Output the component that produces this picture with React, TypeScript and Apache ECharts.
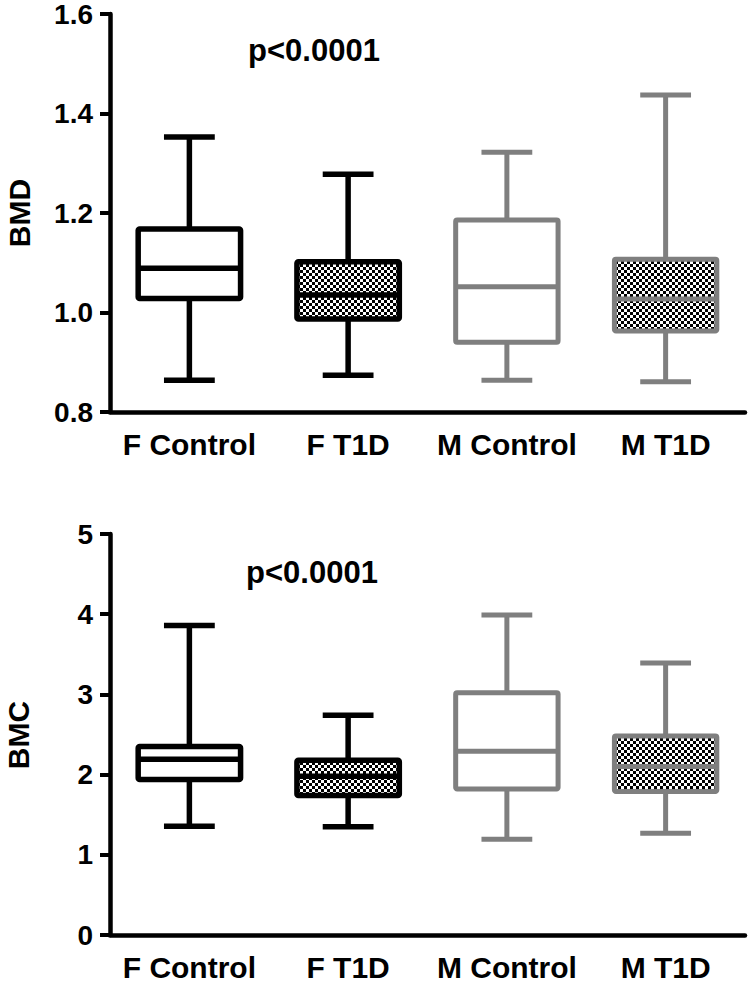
import React, { useEffect, useRef } from "react";
import * as echarts from "echarts";

const categories = ["F Control", "F T1D", "M Control", "M T1D"];
// each box: [min, Q1, median, Q3, max]
const bmdBoxes = [
  [0.864, 1.028, 1.089, 1.168, 1.353],
  [0.874, 0.987, 1.035, 1.102, 1.278],
  [0.864, 0.94, 1.052, 1.186, 1.322],
  [0.861, 0.963, 1.027, 1.107, 1.437],
];
const bmcBoxes = [
  [1.357, 1.94, 2.19, 2.35, 3.86],
  [1.35, 1.74, 1.98, 2.18, 2.74],
  [1.195, 1.82, 2.29, 3.02, 3.99],
  [1.27, 1.79, 2.1, 2.48, 3.39],
];
const bmdAxis = { min: 0.8, max: 1.6, interval: 0.2, decimals: 1 };
const bmcAxis = { min: 0, max: 5, interval: 1, decimals: 0 };
const groupColors = ["#000000", "#000000", "#7f7f7f", "#7f7f7f"];
const groupChecked = [false, true, false, true];
const pValueText = "p<0.0001";
const titles = ["BMD", "BMC"];

const FONT = "'Liberation Sans', Arial, sans-serif";

function makeChecker() {
  const c = document.createElement("canvas");
  c.width = 6;
  c.height = 6;
  const ctx = c.getContext("2d")!;
  ctx.fillStyle = "#ffffff";
  ctx.fillRect(0, 0, 6, 6);
  ctx.fillStyle = "#000000";
  ctx.fillRect(0, 0, 3, 3);
  ctx.fillRect(3, 3, 3, 3);
  return c;
}

export default function App() {
  const ref = useRef<HTMLDivElement>(null);
  useEffect(() => {
    document.body.style.margin = "0";
    const chart = echarts.init(ref.current!, undefined, { renderer: "svg" });
    const checker = makeChecker();
    const pattern = { image: checker, repeat: "repeat" };

    const renderItem = (params: any, api: any) => {
      const idx = api.value(0);
      const mn = api.value(1);
      const q1 = api.value(2);
      const med = api.value(3);
      const q3 = api.value(4);
      const mx = api.value(5);
      const band = api.size([1, 0])[0];
      const boxW = band * 0.645;
      const capW = band * 0.32;
      const cx = api.coord([idx, med])[0];
      const y = (v: number) => api.coord([idx, v])[1];
      const color = groupColors[idx];
      const lw = idx < 2 ? 5.5 : 5;
      const lineStyle = { stroke: color, lineWidth: lw, lineCap: "butt" };
      return {
        type: "group",
        children: [
          { type: "line", shape: { x1: cx, y1: y(mx), x2: cx, y2: y(q3) }, style: lineStyle },
          { type: "line", shape: { x1: cx - capW / 2, y1: y(mx), x2: cx + capW / 2, y2: y(mx) }, style: lineStyle },
          { type: "line", shape: { x1: cx, y1: y(q1), x2: cx, y2: y(mn) }, style: lineStyle },
          { type: "line", shape: { x1: cx - capW / 2, y1: y(mn), x2: cx + capW / 2, y2: y(mn) }, style: lineStyle },
          {
            type: "rect",
            shape: { x: cx - boxW / 2, y: y(q3), width: boxW, height: y(q1) - y(q3), r: 1.5 },
            style: {
              fill: groupChecked[idx] ? pattern : "#ffffff",
              stroke: color,
              lineWidth: lw,
              lineJoin: "round",
            },
          },
          { type: "line", shape: { x1: cx - boxW / 2, y1: y(med), x2: cx + boxW / 2, y2: y(med) }, style: lineStyle },
        ],
      };
    };

    const axisText = { color: "#000", fontWeight: "bold", fontFamily: FONT };

    const mkX = (gi: number) => ({
      gridIndex: gi,
      type: "category",
      data: categories,
      boundaryGap: true,
      axisLine: { lineStyle: { color: "#000", width: 4.5 } },
      axisTick: { alignWithLabel: true, interval: 0, length: 12, lineStyle: { color: "#000", width: 4 } },
      axisLabel: { ...axisText, fontSize: 30, interval: 0, margin: 17 },
      splitLine: { show: false },
    });
    const mkY = (gi: number, ax: any) => ({
      gridIndex: gi,
      type: "value",
      min: ax.min,
      max: ax.max,
      interval: ax.interval,
      axisLine: { show: true, lineStyle: { color: "#000", width: 4.5 } },
      axisTick: { show: true, length: 10, lineStyle: { color: "#000", width: 4 } },
      axisLabel: { ...axisText, fontSize: 28, margin: 17, formatter: (v: number) => v.toFixed(ax.decimals) },
      splitLine: { show: false },
    });
    const toData = (boxes: number[][]) => boxes.map((b, i) => [i, ...b]);

    const titleStyle = (text: string, size: number) => ({
      text,
      fill: "#000",
      font: `bold ${size}px ${FONT}`,
      align: "center",
      verticalAlign: "middle",
    });

    chart.setOption({
      animation: false,
      backgroundColor: "#ffffff",
      grid: [
        { left: 110, top: 14, width: 635, height: 398 },
        { left: 110, top: 534, width: 635, height: 402 },
      ],
      xAxis: [mkX(0), mkX(1)],
      yAxis: [mkY(0, bmdAxis), mkY(1, bmcAxis)],
      series: [
        {
          type: "custom",
          xAxisIndex: 0,
          yAxisIndex: 0,
          renderItem,
          encode: { x: 0, y: [1, 2, 3, 4, 5] },
          data: toData(bmdBoxes),
        },
        {
          type: "custom",
          xAxisIndex: 1,
          yAxisIndex: 1,
          renderItem,
          encode: { x: 0, y: [1, 2, 3, 4, 5] },
          data: toData(bmcBoxes),
        },
      ],
      graphic: [
        { type: "text", x: 19, y: 213, rotation: Math.PI / 2, style: titleStyle(titles[0], 30) },
        { type: "text", x: 18, y: 735, rotation: Math.PI / 2, style: titleStyle(titles[1], 30) },
        { type: "text", x: 314, y: 50, style: titleStyle(pValueText, 31) },
        { type: "text", x: 312, y: 572, style: titleStyle(pValueText, 31) },
      ],
    });
    return () => chart.dispose();
  }, []);
  return <div ref={ref} style={{ width: 750, height: 982 }} />;
}
